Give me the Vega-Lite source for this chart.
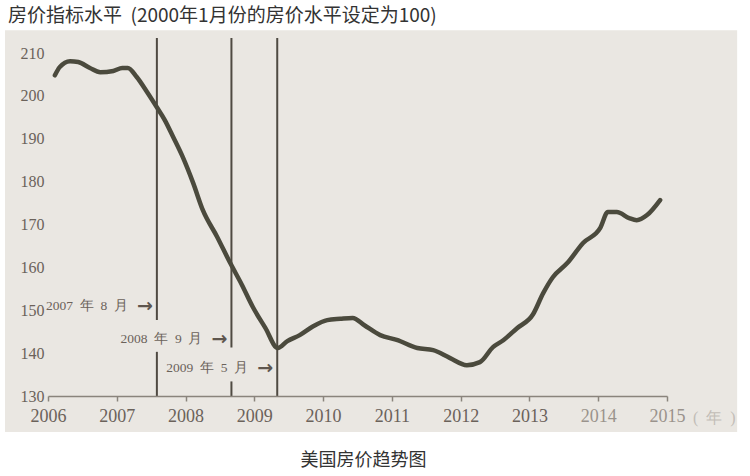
{
  "$schema": "https://vega.github.io/schema/vega-lite/v6.json",
  "width": 619,
  "height": 358,
  "autosize": {"type": "none"},
  "padding": {"left": 48, "top": 38, "right": 83, "bottom": 80},
  "background": "#ffffff",
  "config": {"view": {"stroke": null}},
  "title": {
    "text": "房价指标水平\u00a0\u00a0(2000年1月份的房价水平设定为100)",
    "anchor": "start",
    "frame": "group",
    "dx": -40,
    "offset": 4,
    "font": "Noto Sans CJK SC",
    "fontSize": 19,
    "fontWeight": "normal",
    "color": "#333333"
  },
  "datasets": {
    "curve": [
      {"year": 2006.10, "index": 204.8},
      {"year": 2006.17, "index": 206.7},
      {"year": 2006.32, "index": 208.1},
      {"year": 2006.44, "index": 207.9},
      {"year": 2006.61, "index": 206.5},
      {"year": 2006.76, "index": 205.5},
      {"year": 2006.95, "index": 205.8},
      {"year": 2007.08, "index": 206.5},
      {"year": 2007.16, "index": 206.5},
      {"year": 2007.29, "index": 204.4},
      {"year": 2007.44, "index": 200.9},
      {"year": 2007.58, "index": 197.4},
      {"year": 2007.70, "index": 194.3},
      {"year": 2007.82, "index": 190.4},
      {"year": 2007.96, "index": 185.7},
      {"year": 2008.11, "index": 179.7},
      {"year": 2008.25, "index": 173.4},
      {"year": 2008.46, "index": 167.1},
      {"year": 2008.65, "index": 161.0},
      {"year": 2008.82, "index": 155.9},
      {"year": 2008.98, "index": 150.7},
      {"year": 2009.16, "index": 145.9},
      {"year": 2009.34, "index": 141.2},
      {"year": 2009.48, "index": 142.8},
      {"year": 2009.66, "index": 144.2},
      {"year": 2009.85, "index": 146.2},
      {"year": 2010.06, "index": 147.7},
      {"year": 2010.25, "index": 148.0},
      {"year": 2010.43, "index": 148.2},
      {"year": 2010.60, "index": 146.5},
      {"year": 2010.83, "index": 144.2},
      {"year": 2011.07, "index": 143.1},
      {"year": 2011.37, "index": 141.2},
      {"year": 2011.60, "index": 140.7},
      {"year": 2011.84, "index": 138.9},
      {"year": 2012.09, "index": 137.2},
      {"year": 2012.28, "index": 137.9},
      {"year": 2012.47, "index": 141.4},
      {"year": 2012.62, "index": 143.0},
      {"year": 2012.82, "index": 145.8},
      {"year": 2013.05, "index": 149.0},
      {"year": 2013.20, "index": 154.0},
      {"year": 2013.34, "index": 157.7},
      {"year": 2013.55, "index": 161.0},
      {"year": 2013.78, "index": 165.7},
      {"year": 2014.03, "index": 169.2},
      {"year": 2014.14, "index": 172.9},
      {"year": 2014.27, "index": 172.9},
      {"year": 2014.45, "index": 171.5},
      {"year": 2014.56, "index": 171.0},
      {"year": 2014.71, "index": 172.2},
      {"year": 2014.90, "index": 175.7}
    ],
    "events": [
      {"year": 2007.583, "from": 213.5, "to": 147.7},
      {"year": 2007.583, "from": 140.3, "to": 130},
      {"year": 2008.667, "from": 213.5, "to": 141.3},
      {"year": 2008.667, "from": 133.4, "to": 130},
      {"year": 2009.333, "from": 213.5, "to": 130}
    ],
    "labels": [
      {"year": 2007.583, "index": 151.0, "text": "2007\u00a0\u00a0年\u00a0\u00a08\u00a0\u00a0月"},
      {"year": 2008.667, "index": 143.3, "text": "2008\u00a0\u00a0年\u00a0\u00a09\u00a0\u00a0月"},
      {"year": 2009.333, "index": 136.5, "text": "2009\u00a0\u00a0年\u00a0\u00a05\u00a0\u00a0月"}
    ]
  },
  "layer": [
    {
      "data": {"values": [{}]},
      "mark": {"type": "rect", "fill": "#eae7e2"},
      "encoding": {
        "x": {"datum": 2005.375, "type": "quantitative", "scale": {"domain": [2006, 2015], "nice": false, "zero": false}},
        "x2": {"datum": 2016.02},
        "y": {"datum": 215.3, "type": "quantitative", "scale": {"domain": [130, 213.5], "nice": false, "zero": false}},
        "y2": {"datum": 121.6}
      }
    },
    {
      "data": {"name": "events"},
      "mark": {"type": "rule", "color": "#4f4a42", "strokeWidth": 2},
      "encoding": {
        "x": {"field": "year", "type": "quantitative"},
        "y": {"field": "from", "type": "quantitative"},
        "y2": {"field": "to"}
      }
    },
    {
      "data": {"name": "curve"},
      "mark": {"type": "line", "color": "#4b4a3d", "strokeWidth": 4.5, "interpolate": "monotone", "strokeCap": "round", "strokeJoin": "round"},
      "encoding": {
        "x": {
          "field": "year",
          "type": "quantitative",
          "scale": {"domain": [2006, 2015], "nice": false, "zero": false},
          "axis": {
            "zindex": 1,
            "values": [2006, 2007, 2008, 2009, 2010, 2011, 2012, 2013, 2014, 2015],
            "format": "d",
            "grid": false,
            "labelFlush": false,
            "labelOverlap": false,
            "domainColor": "#8a847c",
            "domainWidth": 1.5,
            "tickColor": "#8a847c",
            "tickWidth": 1.5,
            "tickSize": 5,
            "labelFont": "Liberation Serif",
            "labelFontSize": 18,
            "labelColor": {"condition": {"test": "datum.value >= 2014", "value": "#9a938c"}, "value": "#6b625a"},
            "labelPadding": 6,
            "title": "美国房价趋势图",
            "titleFont": "Noto Sans CJK SC",
            "titleFontSize": 18,
            "titleFontWeight": "normal",
            "titleColor": "#333333",
            "titleX": 315,
            "titleY": 64,
            "titleAlign": "center",
            "titleBaseline": "middle"
          }
        },
        "y": {
          "field": "index",
          "type": "quantitative",
          "scale": {"domain": [130, 213.5], "nice": false, "zero": false},
          "axis": {
            "zindex": 1,
            "values": [130, 140, 150, 160, 170, 180, 190, 200, 210],
            "grid": false,
            "domain": false,
            "ticks": false,
            "labelFont": "Liberation Serif",
            "labelFontSize": 16,
            "labelColor": "#6b625a",
            "labelPadding": 4,
            "title": null
          }
        }
      }
    },
    {
      "data": {"name": "labels"},
      "mark": {"type": "text", "align": "right", "baseline": "middle", "dx": -29, "font": "Liberation Serif", "fontSize": 13.5, "fill": "#6b625a"},
      "encoding": {
        "x": {"field": "year", "type": "quantitative"},
        "y": {"field": "index", "type": "quantitative"},
        "text": {"field": "text"}
      }
    },
    {
      "data": {"name": "labels"},
      "mark": {"type": "text", "align": "right", "baseline": "middle", "dx": -4, "font": "DejaVu Sans", "fontWeight": "bold", "fontSize": 19, "fill": "#5e564e", "text": "→"},
      "encoding": {
        "x": {"field": "year", "type": "quantitative"},
        "y": {"field": "index", "type": "quantitative"}
      }
    },
    {
      "data": {"values": [{}]},
      "mark": {"type": "text", "align": "left", "baseline": "middle", "dx": 26, "dy": 22, "font": "Liberation Serif", "fontSize": 16, "fill": "#c2bdb7", "text": "(\u00a0\u00a0年\u00a0\u00a0)"},
      "encoding": {
        "x": {"datum": 2015, "type": "quantitative"},
        "y": {"datum": 130, "type": "quantitative"}
      }
    }
  ]
}
